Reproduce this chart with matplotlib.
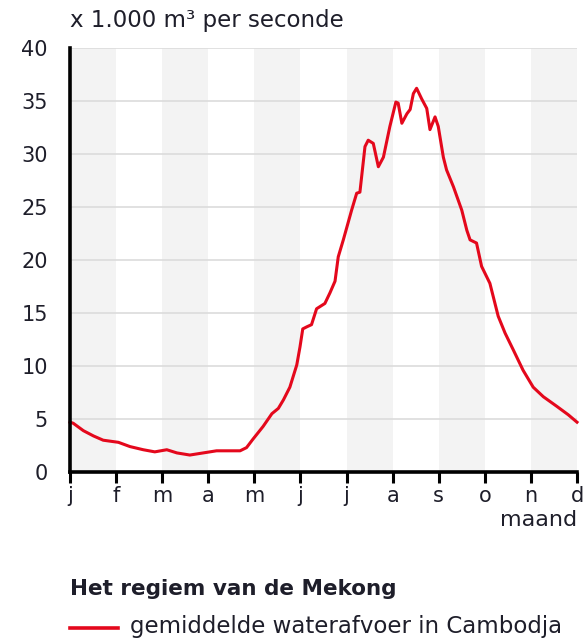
import matplotlib
matplotlib.use("Agg")
import matplotlib.pyplot as plt
from matplotlib.lines import Line2D

# month position (0 = start of j, 11 = d) and discharge in 1000 m3/s
months = [
    0.00, 0.07, 0.29, 0.51, 0.72, 1.05, 1.30, 1.59, 1.84, 2.10, 2.32, 2.60,
    2.89, 3.18, 3.69, 3.83, 3.97, 4.19, 4.38, 4.52, 4.63, 4.77, 4.92, 4.99,
    5.05, 5.14, 5.24, 5.35, 5.53, 5.64, 5.75, 5.82, 5.93, 6.11, 6.22, 6.29,
    6.40, 6.47, 6.58, 6.69, 6.80, 6.94, 7.07, 7.12, 7.20, 7.31, 7.38, 7.45,
    7.52, 7.63, 7.74, 7.81, 7.92, 7.99, 8.10, 8.17, 8.32, 8.50, 8.61, 8.68,
    8.82, 8.93, 9.11, 9.29, 9.44, 9.62, 9.83, 10.05, 10.27, 10.56, 10.81, 11.00,
]
discharge = [
    4.7, 4.6, 3.9, 3.4, 3.0, 2.8, 2.4, 2.1, 1.9, 2.1, 1.8, 1.6,
    1.8, 2.0, 2.0, 2.3, 3.1, 4.3, 5.5, 6.0, 6.8, 8.0, 10.1, 11.8,
    13.5, 13.7, 13.9, 15.4, 15.9, 16.9, 18.0, 20.3, 21.9, 24.7, 26.3, 26.4,
    30.7, 31.3, 31.0, 28.8, 29.7, 32.6, 34.9, 34.8, 32.9, 33.8, 34.2, 35.7,
    36.2, 35.2, 34.3, 32.3, 33.5, 32.6, 29.7, 28.5, 26.9, 24.7, 22.8, 21.9,
    21.6, 19.4, 17.8, 14.7, 13.1, 11.5, 9.6, 8.0, 7.1, 6.2, 5.4, 4.7,
]
month_labels = ["j", "f", "m", "a", "m", "j", "j", "a", "s", "o", "n", "d"]
y_ticks = [0, 5, 10, 15, 20, 25, 30, 35, 40]

red = "#e4081c"
txt = "#1e1e2a"
plt.rcParams["font.family"] = ["DejaVu Sans"]

W, H = 587, 639
fig = plt.figure(figsize=(W / 100, H / 100), dpi=100)
ax = fig.add_axes([70 / W, (H - 472) / H, 507 / W, 424 / H])

# alternating month bands
for i in range(0, len(month_labels) - 1, 2):
    ax.axvspan(i, i + 1, color="#f3f3f3", lw=0, zorder=0)
for yv in y_ticks[1:]:
    ax.axhline(yv, color="#dcdcdc", lw=1.2, zorder=1)

ax.plot(months, discharge, color=red, lw=2.2, zorder=3, clip_on=False)

ax.set_xlim(0, len(month_labels) - 1)
ax.set_ylim(0, 40)
ax.set_xticks(range(len(month_labels)))
ax.set_xticklabels(month_labels)
ax.set_yticks(y_ticks)

for s in ["top", "right"]:
    ax.spines[s].set_visible(False)
for s in ["left", "bottom"]:
    ax.spines[s].set_linewidth(2.6)
    ax.spines[s].set_color("black")
    ax.spines[s].set_zorder(4)

ax.tick_params(axis="x", direction="out", length=8, width=2.2, color="black",
               pad=2, labelsize=15, labelcolor=txt)
ax.tick_params(axis="y", length=0, pad=16, labelsize=15, labelcolor=txt)
for lab in ax.get_yticklabels():
    lab.set_va("center_baseline")

fig.text(70 / W, (H - 20) / H, "x 1.000 m³ per seconde", fontsize=16.5,
         color=txt, ha="left", va="center")
fig.text(577 / W, (H - 520) / H, "maand", fontsize=16, color=txt,
         ha="right", va="center")
fig.text(70 / W, (H - 589) / H, "Het regiem van de Mekong", fontsize=15.5,
         fontweight="bold", color=txt, ha="left", va="center")
fig.add_artist(Line2D([70 / W, 118 / W], [(H - 628) / H] * 2,
                      color=red, lw=2.6, transform=fig.transFigure))
fig.text(130 / W, (H - 627) / H, "gemiddelde waterafvoer in Cambodja",
         fontsize=16.5, color=txt, ha="left", va="center")

fig.savefig("out.png", dpi=100)
